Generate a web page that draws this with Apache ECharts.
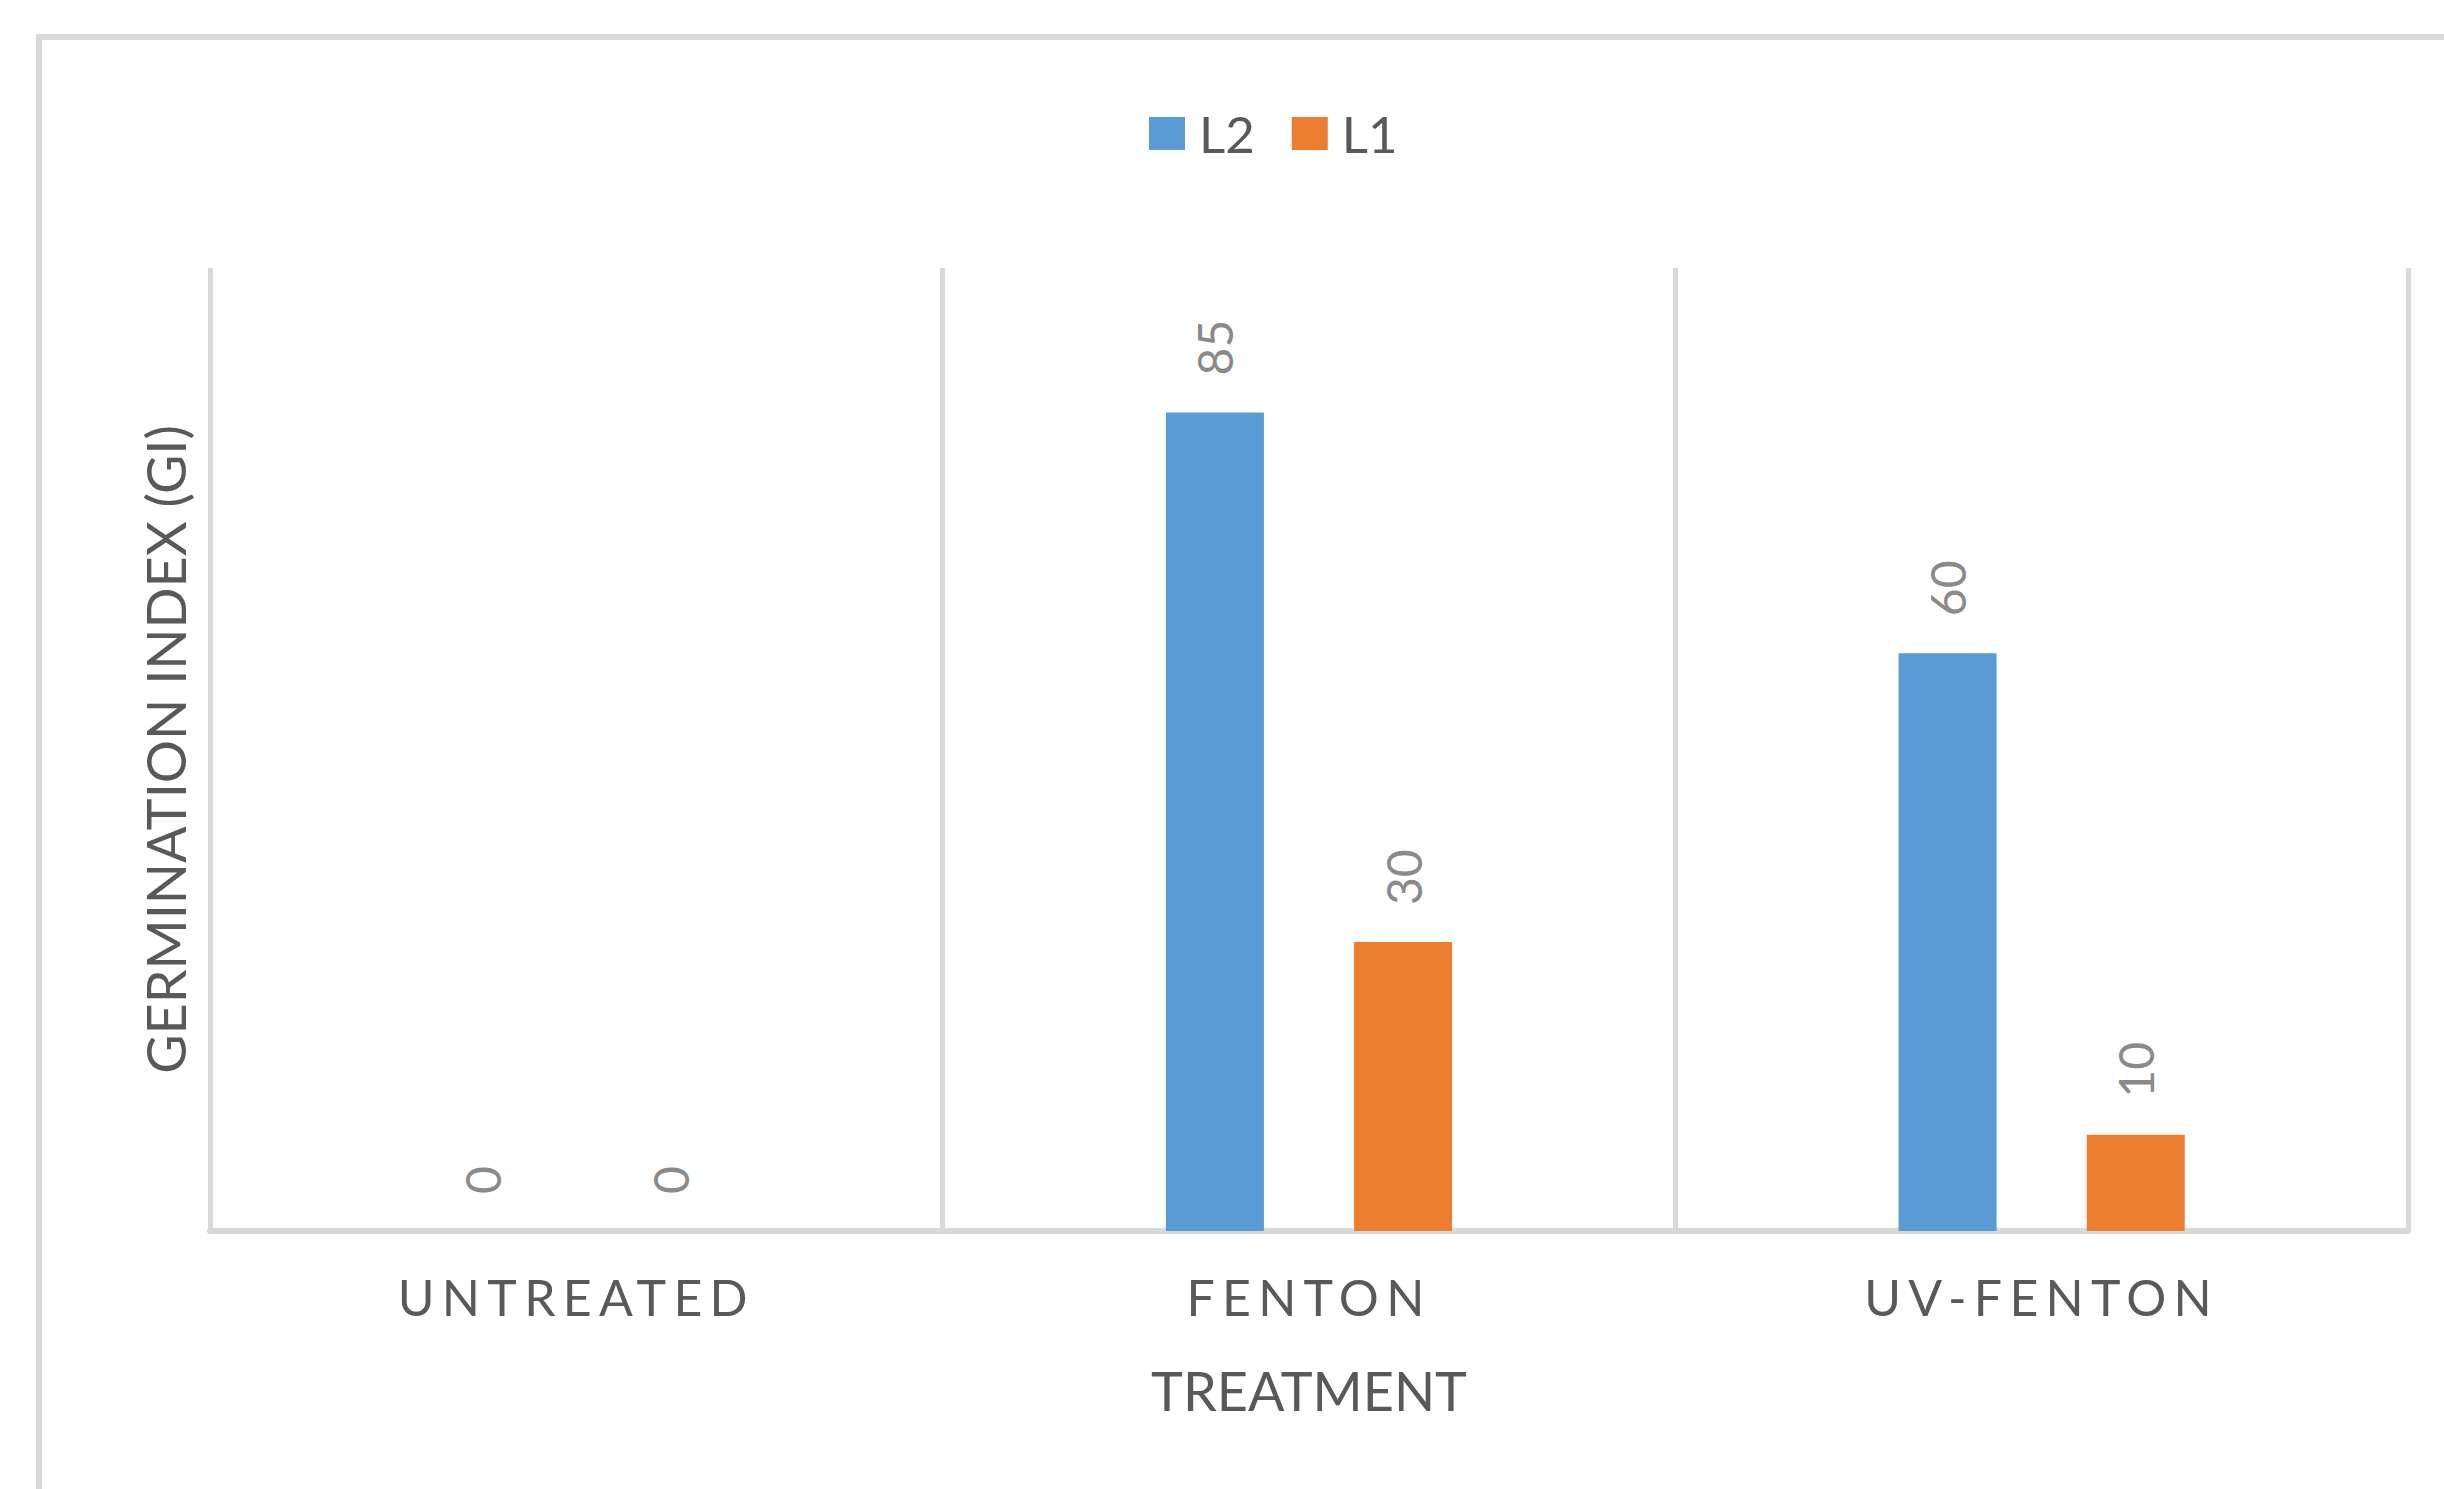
<!DOCTYPE html>
<html>
<head>
<meta charset="utf-8">
<script src="https://cdn.jsdelivr.net/npm/echarts@6/dist/echarts.min.js"></script>
<style>
  html, body { margin: 0; padding: 0; background: #ffffff; }
  #chart { width: 2444px; height: 1489px; }
  /* category labels are set at 50px; give them the wide tracking of the axis style */
  #chart svg text[style*="50px"] { letter-spacing: 7.3px; }
</style>
</head>
<body>
<div id="chart"></div>
<script>
// Germination index per treatment, two seed lots
const categories = ['UNTREATED', 'FENTON', 'UV-FENTON'];
const seriesNames = ['L2', 'L1'];
const l2Values = [0, 85, 60];
const l1Values = [0, 30, 10];
const xAxisTitle = 'TREATMENT';
const yAxisTitle = 'GERMINATION INDEX (GI)';

const FONT = 'Lato, "Liberation Sans", sans-serif';
const TEXT_DARK = '#595959';
const TEXT_LIGHT = '#8a8a8a';
const LINE = '#d9d9d9';
const COLORS = ['#5b9bd5', '#ed7d31'];

const chart = echarts.init(document.getElementById('chart'), null, { renderer: 'svg' });

const valueLabel = {
  show: true,
  position: 'top',
  rotate: 90,
  align: 'left',
  verticalAlign: 'middle',
  distance: 37,
  color: TEXT_LIGHT,
  fontFamily: FONT,
  fontSize: 48
};

chart.setOption({
  animation: false,
  backgroundColor: '#ffffff',
  color: COLORS,
  graphic: [{
    type: 'rect',
    silent: true,
    z: -10,
    shape: { x: 39, y: 37, width: 2600, height: 1700 },
    style: { fill: 'none', stroke: LINE, lineWidth: 6 }
  }],
  legend: {
    data: seriesNames,
    left: 1149,
    top: 108,
    padding: 0,
    icon: 'rect',
    itemWidth: 36,
    itemHeight: 33,
    itemGap: 37,
    textStyle: {
      color: TEXT_DARK,
      fontFamily: FONT,
      fontSize: 51,
      padding: [0, 0, 0, 9]
    }
  },
  grid: {
    left: 210,
    right: 36,
    top: 268,
    bottom: 258,
    containLabel: false
  },
  xAxis: {
    type: 'category',
    data: categories,
    boundaryGap: true,
    name: xAxisTitle,
    nameLocation: 'middle',
    nameGap: 132,
    nameTextStyle: { color: TEXT_DARK, fontFamily: FONT, fontSize: 54 },
    axisLine: { show: true, lineStyle: { color: LINE, width: 6 } },
    axisTick: { show: false },
    axisLabel: {
      color: TEXT_DARK,
      fontFamily: FONT,
      fontSize: 50,
      margin: 41
    },
    splitLine: { show: true, lineStyle: { color: LINE, width: 5 } }
  },
  yAxis: {
    type: 'value',
    min: 0,
    max: 100,
    interval: 20,
    name: yAxisTitle,
    nameLocation: 'middle',
    nameRotate: 90,
    nameGap: 18,
    nameTextStyle: { color: TEXT_DARK, fontFamily: FONT, fontSize: 54 },
    axisLine: { show: false },
    axisTick: { show: false },
    axisLabel: { show: false },
    splitLine: { show: false }
  },
  series: [
    {
      name: seriesNames[0],
      type: 'bar',
      data: l2Values,
      barWidth: 98,
      barGap: '92%',
      label: valueLabel
    },
    {
      name: seriesNames[1],
      type: 'bar',
      data: l1Values,
      barWidth: 98,
      barGap: '92%',
      label: valueLabel
    }
  ]
});
</script>
</body>
</html>
